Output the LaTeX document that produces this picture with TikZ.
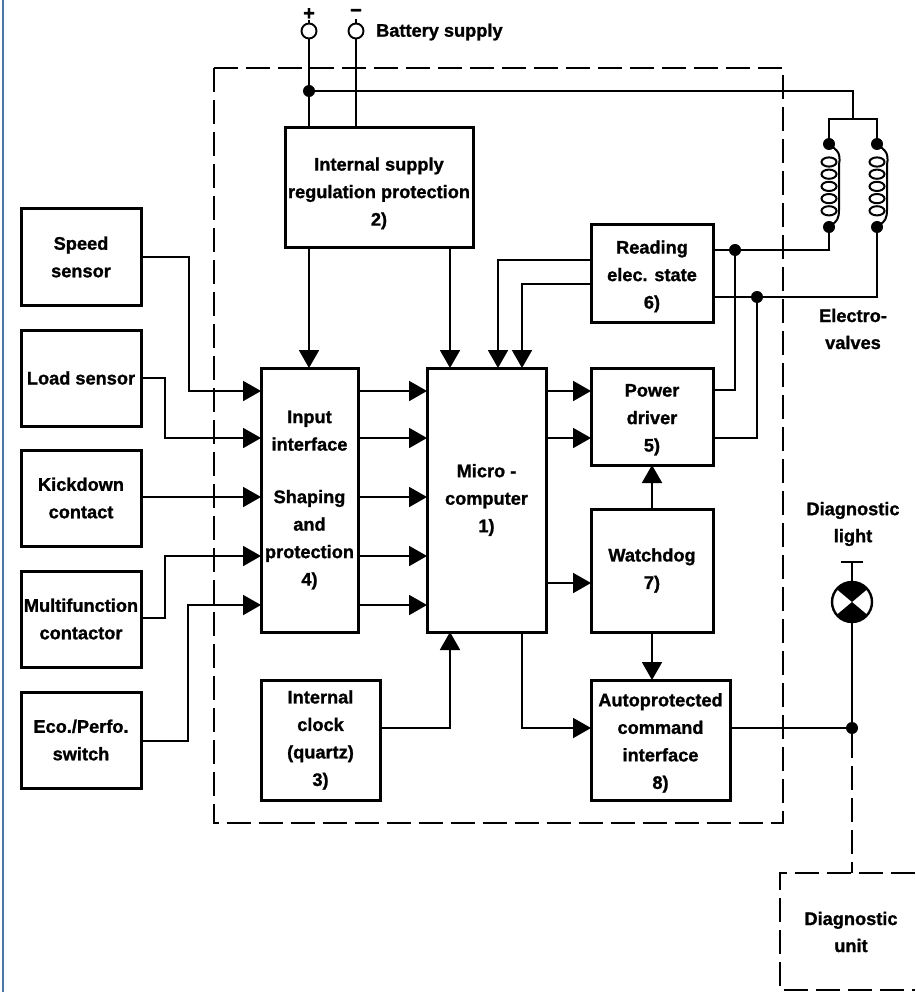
\documentclass[tikz,border=0pt]{standalone}
\usepackage{fontspec}
\setmainfont[BoldFeatures={FakeBold=1.2}]{Liberation Sans}
\usetikzlibrary{arrows.meta,calc}
\definecolor{framecol}{HTML}{4A74A6}
\tikzset{
  box/.style={draw=black,line width=3pt,fill=white,align=center,inner sep=0pt,outer sep=0pt,font=\bfseries\fontsize{18.2}{27.5}\selectfont},
  lbl/.style={align=center,inner sep=0pt,font=\bfseries\fontsize{18.2}{27}\selectfont},
  wire/.style={draw=black,line width=1.9pt},
  arr/.style={wire,-{Triangle[length=18pt,width=20pt]}},
  dsh/.style={draw=black,line width=1.7pt,dash pattern=on 24pt off 8pt},
  jun/.style={circle,fill=black,inner sep=0pt,minimum size=12pt},
  term/.style={circle,draw=black,line width=1.9pt,fill=white,inner sep=0pt,minimum size=15pt}
}
\begin{document}
\begin{tikzpicture}[x=1pt,y=-1pt]
\useasboundingbox (0,0) rectangle (915,992);
\fill[white] (0,0) rectangle (915,992);
\draw[draw=framecol,line width=2.2pt] (3,0) -- (3,992);
% dashed boundaries
\draw[dsh] (214,68) rectangle (783,823);
% boxes
\node[box,minimum width=120pt,minimum height=96pt] (speed) at (81,257) {Speed\\sensor};
\node[box,minimum width=120pt,minimum height=96pt] (load) at (81,378) {Load sensor};
\node[box,minimum width=120pt,minimum height=96pt] (kick) at (81,498) {Kickdown\\contact};
\node[box,minimum width=120pt,minimum height=96pt] (multi) at (81,619) {Multifunction\\contactor};
\node[box,minimum width=120pt,minimum height=96pt] (eco) at (81,740) {Eco./Perfo.\\switch};
\node[box,minimum width=97pt,minimum height=264pt] (input) at (309.5,500) {Input\\interface\\[25pt]Shaping\\and\\protection\\4)};
\node[box,minimum width=119pt,minimum height=264pt] (micro) at (486.5,500) {Micro -\\computer\\1)};
\node[box,minimum width=188pt,minimum height=119pt] (supply) at (379,187.5) {\rule{0pt}{25pt}Internal supply\\regulation protection\\2)};
\node[box,minimum width=122pt,minimum height=97pt] (reading) at (652,273.5) {\rule{0pt}{19pt}Reading\\elec. state\\6)};
\node[box,minimum width=122pt,minimum height=97pt] (power) at (652,416.5) {\rule{0pt}{19pt}Power\\driver\\5)};
\node[box,minimum width=122pt,minimum height=123pt] (watch) at (652,570.5) {Watchdog\\7)};
\node[box,minimum width=139pt,minimum height=120pt] (auto) at (660.5,740) {\rule{0pt}{19pt}Autoprotected\\command\\interface\\8)};
\node[box,minimum width=119pt,minimum height=120pt] (clock) at (320.5,740) {Internal\\clock\\(quartz)\\3)};
% terminals
\node[term] (tplus) at (309,31) {};
\node[term] (tminus) at (356,31) {};
\node[lbl,font=\bfseries\fontsize{20}{20}\selectfont] (plus) at (309,14) {+};
\node[lbl,font=\bfseries\fontsize{20}{20}\selectfont] (minus) at (356,13) {\textminus};
\node[lbl,anchor=west] (batt) at (376,32) {Battery supply};
\draw[wire] (plus) -- (tplus);
\coordinate (mstem) at (356,19);
\draw[wire] (mstem) -- (tminus);
\node[jun] (j0) at (309,91) {};
\draw[wire] (tplus) -- (tplus |- supply.north);
\draw[wire] (tminus) -- (tminus |- supply.north);
% coils
\coordinate (bar) at (853,119);
\node[jun] (c1t) at (829,144) {};
\node[jun] (c1b) at (829,227) {};
\node[jun] (c2t) at (877,144) {};
\node[jun] (c2b) at (877,227) {};
\draw[wire] (j0) -| (bar);
\draw[wire] (c1t) |- (bar) -| (c2t);
\foreach \c in {829,877}{
  \foreach \k in {0,...,4}{
    \draw[draw=black,line width=2pt] (\c,{162+\k*12.2}) ellipse (7.5pt and 4.6pt);
  }
  \draw[draw=black,line width=2pt] (\c+2,146) .. controls (\c+12,152) and (\c+11,158) .. (\c+10,165) -- (\c+10,210) .. controls (\c+10,218) and (\c+8,222) .. (\c+2,225);
}
\node[lbl,anchor=center] (valves) at (853,329) {Electro-\\valves};
% reading outputs and junctions
\node[jun] (j1) at (735,250) {};
\node[jun] (j2) at (757,297) {};
\draw[wire] (reading.east |- j1) -- (j1) -| (c1b);
\draw[wire] (reading.east |- j2) -- (j2) -| (c2b);
\draw[wire] (j1) |- (power.east |- 0,390);
\draw[wire] (j2) |- (power.east |- 0,438);
% reading to micro
\draw[arr] (reading.west |- 0,260) -| (micro.north -| 498,0);
\draw[arr] (reading.west |- 0,284) -| (micro.north -| 522,0);
% supply down
\draw[arr] (supply.south -| 309,0) -- (input.north -| 309,0);
\draw[arr] (supply.south -| 450,0) -- (micro.north -| 450,0);
% sensors
\draw[arr] (speed.east |- 0,257) -| (189,391) -- (input.west |- 0,391);
\draw[arr] (load.east |- 0,378) -| (165,438) -- (input.west |- 0,438);
\draw[arr] (kick.east |- 0,497) -- (input.west |- 0,497);
\draw[arr] (multi.east |- 0,618) -| (165,556) -- (input.west |- 0,556);
\draw[arr] (eco.east |- 0,741) -| (188,605) -- (input.west |- 0,605);
% input to micro
\foreach \y in {391,438,497,556,605}{
  \draw[arr] (input.east |- 0,\y) -- (micro.west |- 0,\y);
}
% micro to others
\draw[arr] (micro.east |- 0,391) -- (power.west |- 0,391);
\draw[arr] (micro.east |- 0,438) -- (power.west |- 0,438);
\draw[arr] (micro.east |- 0,583) -- (watch.west |- 0,583);
\draw[arr] (watch.north) -- (power.south);
\draw[arr] (watch.south) -- (watch.south |- auto.north);
\draw[arr] (micro.south -| 522,0) |- (auto.west |- 0,728);
\draw[arr] (clock.east |- 0,728) -| (micro.south -| 450,0);
% diagnostic
\node[jun] (j3) at (852,728) {};
\node[circle,draw=black,line width=2.4pt,fill=white,inner sep=0pt,minimum size=40pt] (lamp) at (852,602) {};
\fill[black] (lamp.center) -- ++(140:20pt) arc (140:40:20pt) -- cycle;
\fill[black] (lamp.center) -- ++(-40:20pt) arc (-40:-140:20pt) -- cycle;
\coordinate (lamptop) at (852,562);
\coordinate (barl) at (841,562);
\coordinate (barr) at (863,562);
\draw[wire] (barl) -- (barr);
\draw[wire] (lamp.north) -- (lamptop);
\draw[wire] (auto.east |- j3) -- (j3) -- (lamp.south);
\node[lbl] (dl) at (853,524) {Diagnostic\\light};
\coordinate (unittop) at (852,873);
\draw[dsh] (915,873) -- (780,873) -- (780,990) -- (915,990);
\draw[dsh] (j3) -- (unittop);
\node[lbl] (du) at (851,932) {Diagnostic\\unit};
\end{tikzpicture}
\end{document}
